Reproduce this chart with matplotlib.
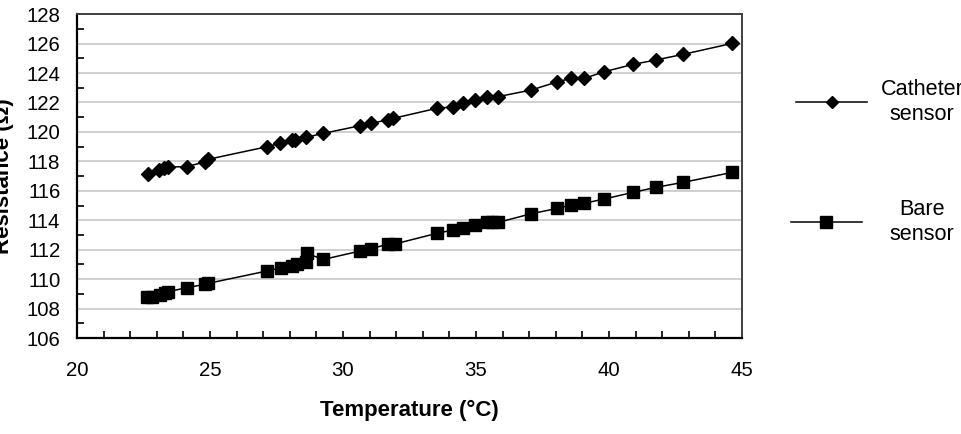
import matplotlib.pyplot as plt
from matplotlib.lines import Line2D
from matplotlib.ticker import MultipleLocator

plt.rcParams['font.family'] = ['Liberation Sans', 'DejaVu Sans']

cath_temp = [22.66, 23.10, 23.28, 23.41, 24.12, 24.81, 24.91, 27.13, 27.63,
             28.08, 28.20, 28.60, 29.26, 30.64, 31.04, 31.70, 31.89, 33.52,
             34.15, 34.52, 34.96, 35.40, 35.81, 37.07, 38.06, 38.56, 39.06,
             39.81, 40.89, 41.75, 42.77, 44.63]
cath_res = [117.16, 117.39, 117.52, 117.63, 117.63, 117.97, 118.13, 118.99,
            119.22, 119.43, 119.43, 119.63, 119.90, 120.42, 120.58, 120.82,
            120.92, 121.60, 121.71, 121.94, 122.16, 122.39, 122.39, 122.84,
            123.40, 123.63, 123.63, 124.08, 124.58, 124.88, 125.26, 126.01]

bare_temp = [22.62, 22.81, 23.12, 23.31, 23.43, 24.12, 24.81, 24.94, 27.13,
             27.67, 28.07, 28.26, 28.61, 28.64, 29.26, 30.64, 31.04, 31.70,
             31.95, 33.52, 34.15, 34.52, 34.96, 35.40, 35.62, 35.84, 37.07,
             38.06, 38.56, 39.06, 39.81, 40.89, 41.75, 42.77, 44.63]
bare_res = [108.81, 108.81, 108.92, 109.04, 109.15, 109.42, 109.65, 109.72,
            110.55, 110.78, 110.92, 111.01, 111.14, 111.75, 111.34, 111.91,
            112.05, 112.39, 112.39, 113.11, 113.34, 113.45, 113.68, 113.86,
            113.86, 113.86, 114.44, 114.81, 115.03, 115.15, 115.44, 115.89,
            116.23, 116.57, 117.25]

labels = ["Catheter\nsensor", "Bare\nsensor"]

fig = plt.figure(figsize=(9.62, 4.34), dpi=100)
ax = fig.add_axes([0.080, 0.221, 0.6913, 0.7465])

ax.plot(cath_temp, cath_res, color='black', lw=1.1, marker='D', ms=7.5,
        mfc='black', mec='black', zorder=3)
ax.plot(bare_temp, bare_res, color='black', lw=1.1, marker='s', ms=8.5,
        mfc='black', mec='black', zorder=3)

ax.set_xlim(20, 45)
ax.set_ylim(106, 128)
ax.xaxis.set_major_locator(MultipleLocator(5))
ax.xaxis.set_minor_locator(MultipleLocator(1))
ax.yaxis.set_major_locator(MultipleLocator(2))
ax.yaxis.set_minor_locator(MultipleLocator(1))

ax.grid(axis='y', which='major', color='#c8c8c8', lw=1.2)
ax.set_axisbelow(True)

ax.tick_params(axis='x', which='both', direction='in', length=5, width=1.2,
               labelsize=14.7, pad=16.5)
ax.tick_params(axis='y', which='major', length=0, labelsize=14.7, pad=12)
ax.tick_params(axis='y', which='minor', direction='in', length=5, width=1.2)

for s in ['left', 'bottom']:
    ax.spines[s].set_color('black')
    ax.spines[s].set_linewidth(1.6)
for s in ['top', 'right']:
    ax.spines[s].set_color('#404040')
    ax.spines[s].set_linewidth(1.4)

ax.set_xlabel("Temperature (°C)", fontsize=16, fontweight='bold', labelpad=14)
ax.set_ylabel("Resistance (Ω)", fontsize=16, fontweight='bold')
ax.yaxis.set_label_coords(-0.094, 0.5)

# --- Legende rechts, von Hand ---
leg_y = [1 - 102 / 434, 1 - 222 / 434]
leg_x0 = [796 / 962, 791 / 962]
leg_x1 = [867 / 962, 862 / 962]
leg_marker = ['D', 's']
leg_ms = [6, 8.5]
for i in range(2):
    xc = (leg_x0[i] + leg_x1[i]) / 2
    fig.add_artist(Line2D([leg_x0[i], xc, leg_x1[i]], [leg_y[i]] * 3,
                          transform=fig.transFigure, color='black', lw=1.1,
                          marker=leg_marker[i], ms=leg_ms[i], markevery=[1],
                          mfc='black', mec='black'))
    fig.text(922 / 962, leg_y[i], labels[i], ha='center', va='center',
             fontsize=15.6, linespacing=1.25)

fig.savefig("out.png", dpi=100)
